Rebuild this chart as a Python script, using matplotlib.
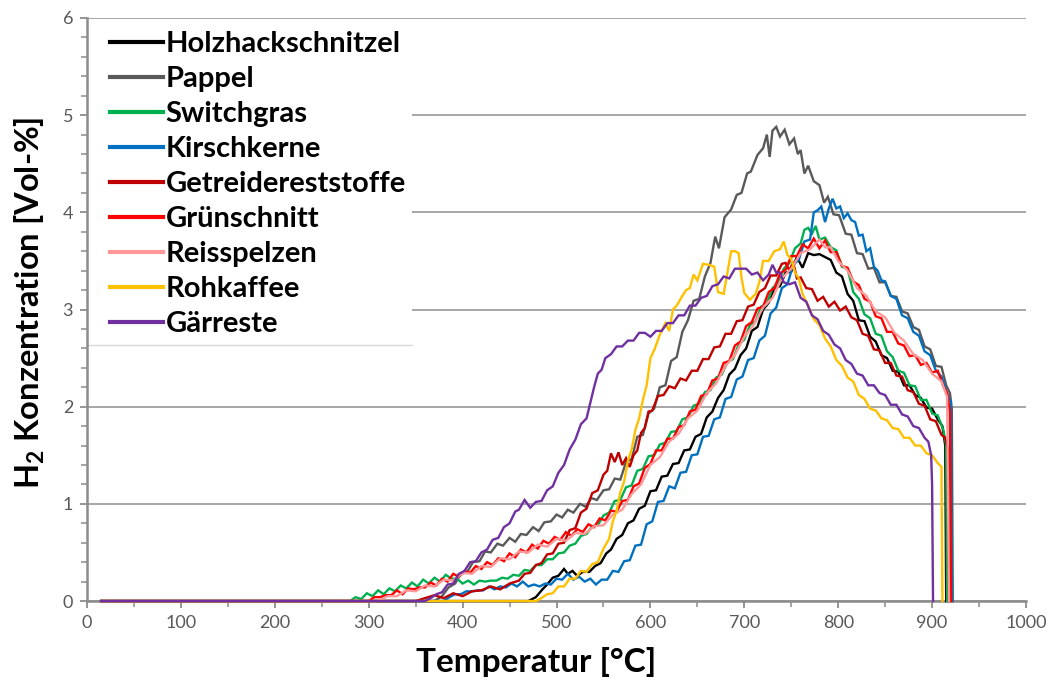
import numpy as np
import matplotlib
matplotlib.use("Agg")
import matplotlib.pyplot as plt
from matplotlib.patches import Rectangle
from matplotlib.ticker import MultipleLocator

plt.rcParams['font.family'] = ['Lato', 'DejaVu Sans']
plt.rcParams['mathtext.fontset'] = 'custom'
plt.rcParams['mathtext.rm'] = 'Lato:bold'
plt.rcParams['mathtext.bf'] = 'Lato:bold'

# H2 release over temperature, one curve per feedstock
holz_t = [15, 470, 478, 485, 490, 496, 502, 508, 512, 517, 522, 528, 535, 541, 547, 553, 558, 564, 570, 576,
          582, 588, 594, 600, 606, 612, 618, 624, 630, 636, 642, 648, 654, 660, 666, 672, 678, 684, 690, 696,
          702, 708, 714, 720, 726, 732, 738, 744, 750, 756, 762, 768, 774, 780, 786, 792, 798, 804, 810, 816,
          822, 828, 834, 840, 846, 852, 858, 864, 870, 876, 882, 888, 894, 900, 906, 911, 914, 915]
holz_h = [0, 0, 0.04, 0.12, 0.17, 0.24, 0.26, 0.33, 0.28, 0.31, 0.26, 0.30, 0.30, 0.36, 0.39, 0.49, 0.53, 0.64, 0.68, 0.80,
          0.83, 0.95, 0.98, 1.13, 1.14, 1.28, 1.29, 1.41, 1.42, 1.55, 1.56, 1.69, 1.72, 1.89, 1.95, 2.09, 2.17, 2.33, 2.39, 2.53,
          2.60, 2.78, 2.82, 3.00, 3.07, 3.22, 3.24, 3.38, 3.39, 3.54, 3.43, 3.58, 3.56, 3.57, 3.54, 3.51, 3.38, 3.34, 3.16, 3.09,
          2.89, 2.88, 2.72, 2.67, 2.53, 2.50, 2.37, 2.36, 2.22, 2.22, 2.12, 2.09, 1.99, 1.98, 1.87, 1.80, 1.60, 0]

pappel_t = [15, 370, 378, 385, 392, 398, 405, 411, 418, 424, 430, 437, 443, 450, 456, 462, 468, 475, 481, 487,
            494, 500, 506, 512, 518, 525, 531, 537, 543, 550, 556, 562, 568, 574, 580, 586, 592, 598, 604, 610,
            616, 622, 628, 634, 640, 646, 652, 658, 664, 669, 673, 679, 686, 692, 697, 703, 707, 714, 720, 724,
            727, 730, 734, 738, 743, 748, 753, 757, 760, 764, 768, 774, 780, 785, 789, 795, 801, 808, 814, 820,
            826, 832, 838, 844, 850, 856, 862, 868, 874, 880, 886, 892, 898, 904, 910, 915, 919, 921, 922]
pappel_h = [0, 0, 0.05, 0.14, 0.18, 0.28, 0.30, 0.40, 0.41, 0.51, 0.50, 0.59, 0.57, 0.65, 0.61, 0.69, 0.68, 0.76, 0.72, 0.81,
            0.82, 0.89, 0.86, 0.94, 0.91, 1.00, 0.97, 1.06, 1.04, 1.14, 1.15, 1.26, 1.25, 1.43, 1.46, 1.69, 1.71, 1.93, 1.98, 2.20,
            2.22, 2.47, 2.51, 2.77, 2.89, 3.09, 3.11, 3.34, 3.48, 3.75, 3.63, 3.95, 4.03, 4.18, 4.20, 4.40, 4.42, 4.59, 4.66, 4.80,
            4.57, 4.84, 4.88, 4.78, 4.85, 4.70, 4.76, 4.60, 4.64, 4.40, 4.48, 4.32, 4.28, 4.10, 4.16, 3.98, 3.97, 3.78, 3.77, 3.58,
            3.57, 3.42, 3.43, 3.28, 3.28, 3.14, 3.13, 2.98, 2.96, 2.82, 2.79, 2.62, 2.59, 2.42, 2.41, 2.22, 2.14, 1.98, 0]

switch_t = [15, 280, 286, 292, 298, 304, 310, 316, 322, 328, 334, 340, 346, 352, 358, 364, 370, 376, 382, 388,
            394, 400, 406, 412, 418, 424, 430, 436, 442, 448, 454, 460, 466, 472, 478, 484, 490, 496, 502, 508,
            514, 520, 526, 532, 538, 544, 550, 556, 562, 568, 574, 580, 586, 592, 598, 604, 610, 616, 622, 628,
            634, 640, 646, 652, 658, 664, 670, 676, 682, 688, 694, 700, 706, 712, 718, 724, 730, 736, 742, 748,
            754, 760, 764, 768, 772, 776, 780, 786, 792, 798, 804, 810, 816, 822, 828, 834, 840, 846, 852, 858,
            864, 870, 876, 882, 888, 894, 900, 906, 912, 915, 916]
switch_h = [0, 0, 0.04, 0.02, 0.08, 0.05, 0.11, 0.07, 0.13, 0.10, 0.16, 0.13, 0.19, 0.15, 0.22, 0.18, 0.24, 0.20, 0.27, 0.23,
            0.23, 0.18, 0.21, 0.17, 0.21, 0.20, 0.21, 0.21, 0.24, 0.23, 0.27, 0.26, 0.32, 0.31, 0.37, 0.37, 0.43, 0.43, 0.49, 0.50,
            0.57, 0.59, 0.67, 0.69, 0.77, 0.78, 0.88, 0.91, 1.03, 1.04, 1.17, 1.19, 1.34, 1.36, 1.49, 1.50, 1.61, 1.63, 1.74, 1.75,
            1.87, 1.89, 2.01, 2.03, 2.15, 2.17, 2.30, 2.33, 2.46, 2.49, 2.64, 2.69, 2.84, 2.88, 3.03, 3.06, 3.22, 3.27, 3.42, 3.48,
            3.63, 3.68, 3.82, 3.84, 3.78, 3.86, 3.72, 3.74, 3.64, 3.61, 3.44, 3.42, 3.18, 3.11, 2.95, 2.91, 2.75, 2.73, 2.57, 2.51,
            2.37, 2.35, 2.22, 2.21, 2.07, 2.07, 1.93, 1.91, 1.76, 1.60, 0]

kirsch_t = [15, 380, 386, 392, 398, 404, 410, 416, 422, 428, 434, 440, 446, 452, 458, 464, 470, 476, 482, 488,
            494, 500, 506, 512, 518, 524, 530, 536, 542, 548, 554, 560, 566, 572, 578, 584, 590, 596, 602, 608,
            614, 620, 626, 632, 638, 644, 650, 656, 662, 668, 674, 680, 686, 692, 698, 704, 710, 716, 722, 728,
            734, 740, 746, 752, 758, 764, 770, 774, 778, 782, 786, 790, 794, 798, 802, 806, 810, 814, 818, 822,
            826, 830, 834, 838, 842, 846, 850, 856, 862, 868, 874, 880, 886, 892, 898, 904, 910, 916, 920, 921]
kirsch_h = [0, 0, 0.04, 0.07, 0.07, 0.10, 0.10, 0.11, 0.11, 0.15, 0.12, 0.15, 0.14, 0.18, 0.15, 0.20, 0.15, 0.17, 0.15, 0.18,
            0.17, 0.23, 0.22, 0.28, 0.22, 0.25, 0.20, 0.23, 0.17, 0.22, 0.22, 0.31, 0.30, 0.41, 0.42, 0.57, 0.58, 0.79, 0.82, 1.02,
            1.03, 1.18, 1.16, 1.32, 1.33, 1.50, 1.51, 1.69, 1.70, 1.87, 1.89, 2.08, 2.10, 2.28, 2.31, 2.48, 2.50, 2.68, 2.73, 2.96,
            3.02, 3.22, 3.26, 3.46, 3.51, 3.70, 3.72, 4.00, 4.02, 4.06, 3.90, 4.04, 4.14, 4.04, 4.06, 3.94, 3.99, 3.92, 3.90, 3.76,
            3.77, 3.60, 3.63, 3.44, 3.40, 3.30, 3.29, 3.14, 3.11, 2.94, 2.91, 2.77, 2.73, 2.57, 2.53, 2.37, 2.31, 2.13, 2.05, 0]

getreide_t = [15, 350, 360, 370, 380, 390, 400, 410, 420, 430, 440, 450, 460, 466, 472, 478, 484, 490, 496, 502,
              508, 514, 520, 526, 532, 538, 544, 550, 554, 558, 562, 566, 570, 574, 578, 582, 586, 590, 594, 598,
              602, 608, 614, 620, 626, 632, 638, 644, 650, 656, 662, 668, 674, 680, 686, 692, 698, 704, 710, 716,
              722, 728, 734, 740, 744, 748, 752, 756, 760, 766, 772, 778, 784, 790, 796, 802, 808, 814, 820, 826,
              832, 838, 844, 850, 856, 862, 868, 874, 880, 886, 892, 898, 904, 910, 914, 917, 918]
getreide_h = [0, 0, 0.03, 0.06, 0.03, 0.08, 0.05, 0.10, 0.11, 0.15, 0.12, 0.18, 0.21, 0.28, 0.29, 0.37, 0.39, 0.48, 0.49, 0.59,
              0.60, 0.73, 0.75, 0.91, 0.95, 1.11, 1.14, 1.30, 1.34, 1.52, 1.43, 1.53, 1.40, 1.47, 1.38, 1.50, 1.55, 1.73, 1.78, 1.95,
              1.96, 2.11, 2.12, 2.21, 2.19, 2.29, 2.27, 2.37, 2.37, 2.49, 2.49, 2.61, 2.62, 2.75, 2.75, 2.88, 2.89, 3.03, 3.05, 3.18,
              3.22, 3.35, 3.35, 3.47, 3.48, 3.40, 3.49, 3.32, 3.33, 3.22, 3.21, 3.09, 3.13, 3.03, 3.08, 2.99, 3.03, 2.92, 2.89, 2.75,
              2.73, 2.59, 2.58, 2.45, 2.45, 2.32, 2.31, 2.17, 2.15, 2.03, 2.01, 1.87, 1.85, 1.71, 1.68, 1.55, 0]

gruen_t = [15, 300, 306, 312, 318, 324, 330, 336, 342, 348, 354, 360, 366, 372, 378, 384, 390, 396, 402, 408,
           414, 420, 426, 432, 438, 444, 450, 456, 462, 468, 474, 480, 486, 492, 498, 504, 510, 516, 522, 528,
           534, 540, 546, 552, 558, 564, 570, 576, 582, 588, 594, 600, 606, 612, 618, 624, 630, 636, 642, 648,
           654, 660, 666, 672, 678, 684, 690, 696, 702, 708, 714, 720, 726, 732, 738, 744, 750, 756, 762, 768,
           774, 780, 786, 792, 798, 804, 810, 816, 822, 828, 834, 840, 846, 852, 858, 864, 870, 876, 882, 888,
           894, 900, 906, 912, 916, 919, 920]
gruen_h = [0, 0, 0.04, 0.04, 0.06, 0.06, 0.11, 0.07, 0.13, 0.12, 0.14, 0.14, 0.19, 0.16, 0.23, 0.20, 0.28, 0.25, 0.31, 0.29,
           0.36, 0.33, 0.40, 0.37, 0.44, 0.41, 0.49, 0.45, 0.53, 0.50, 0.58, 0.54, 0.62, 0.59, 0.66, 0.63, 0.71, 0.67, 0.74, 0.71,
           0.79, 0.76, 0.85, 0.83, 0.93, 0.92, 1.03, 1.04, 1.18, 1.21, 1.37, 1.41, 1.55, 1.55, 1.67, 1.67, 1.79, 1.81, 1.95, 1.97,
           2.11, 2.13, 2.27, 2.29, 2.45, 2.47, 2.63, 2.67, 2.83, 2.87, 3.01, 3.03, 3.18, 3.22, 3.37, 3.41, 3.55, 3.55, 3.67, 3.63,
           3.73, 3.63, 3.71, 3.59, 3.59, 3.45, 3.43, 3.29, 3.25, 3.11, 3.08, 2.93, 2.91, 2.77, 2.77, 2.65, 2.63, 2.52, 2.53, 2.43,
           2.45, 2.35, 2.37, 2.21, 2.14, 1.95, 0]

reis_t = [15, 310, 320, 330, 340, 350, 360, 370, 380, 390, 400, 410, 420, 430, 440, 450, 460, 470, 480, 490,
          500, 510, 520, 530, 540, 550, 560, 570, 580, 590, 600, 610, 620, 630, 640, 650, 660, 670, 680, 690,
          700, 710, 720, 730, 740, 750, 760, 770, 780, 786, 792, 800, 810, 820, 830, 840, 850, 860, 870, 880,
          890, 900, 910, 916, 918]
reis_h = [0, 0, 0.05, 0.05, 0.11, 0.10, 0.16, 0.15, 0.22, 0.21, 0.29, 0.28, 0.36, 0.35, 0.44, 0.43, 0.51, 0.50, 0.58, 0.56,
          0.64, 0.62, 0.70, 0.69, 0.77, 0.78, 0.89, 0.94, 1.10, 1.20, 1.40, 1.48, 1.64, 1.72, 1.88, 1.96, 2.14, 2.24, 2.42, 2.53,
          2.72, 2.84, 3.02, 3.12, 3.32, 3.42, 3.58, 3.62, 3.72, 3.64, 3.64, 3.50, 3.40, 3.22, 3.14, 2.98, 2.92, 2.76, 2.68, 2.54,
          2.48, 2.34, 2.26, 2.10, 0]

kaffee_t = [15, 478, 484, 490, 496, 502, 508, 514, 520, 526, 532, 538, 544, 550, 556, 560, 564, 568, 572, 576,
            580, 584, 588, 592, 596, 600, 604, 610, 616, 620, 624, 628, 634, 638, 642, 646, 650, 656, 662, 668,
            672, 678, 682, 686, 690, 694, 697, 700, 706, 712, 716, 720, 726, 732, 738, 742, 746, 750, 754, 758,
            762, 768, 774, 780, 786, 792, 798, 804, 810, 816, 822, 828, 834, 840, 846, 852, 858, 864, 870, 876,
            882, 888, 894, 900, 906, 910, 911]
kaffee_h = [0, 0, 0.03, 0.07, 0.08, 0.15, 0.15, 0.23, 0.23, 0.31, 0.30, 0.38, 0.40, 0.54, 0.64, 0.82, 0.93, 1.12, 1.23, 1.44,
            1.56, 1.76, 1.88, 2.07, 2.22, 2.50, 2.58, 2.74, 2.86, 2.78, 3.00, 3.04, 3.14, 3.20, 3.22, 3.36, 3.30, 3.47, 3.46, 3.44,
            3.18, 3.16, 3.38, 3.60, 3.60, 3.58, 3.33, 3.17, 3.10, 3.16, 3.28, 3.50, 3.50, 3.60, 3.62, 3.70, 3.56, 3.52, 3.38, 3.32,
            3.16, 3.04, 2.90, 2.84, 2.70, 2.62, 2.48, 2.42, 2.30, 2.26, 2.12, 2.08, 1.98, 1.96, 1.88, 1.86, 1.78, 1.77, 1.68, 1.68,
            1.60, 1.60, 1.52, 1.50, 1.42, 1.38, 0]

gaer_t = [15, 360, 366, 372, 378, 384, 390, 396, 402, 408, 414, 420, 426, 432, 438, 444, 450, 456, 460, 466,
          472, 478, 484, 490, 496, 502, 508, 514, 520, 526, 532, 536, 540, 544, 548, 552, 558, 564, 570, 576,
          582, 588, 594, 600, 606, 612, 618, 624, 630, 636, 642, 648, 654, 660, 666, 672, 678, 684, 690, 696,
          702, 708, 714, 720, 726, 730, 734, 738, 742, 748, 754, 760, 766, 772, 778, 784, 790, 796, 802, 808,
          814, 820, 826, 832, 838, 844, 850, 856, 862, 868, 874, 880, 886, 892, 896, 899, 900, 901]
gaer_h = [0, 0, 0.03, 0.07, 0.09, 0.17, 0.18, 0.28, 0.31, 0.40, 0.41, 0.50, 0.53, 0.63, 0.65, 0.76, 0.80, 0.92, 0.94, 1.04,
          0.96, 1.02, 1.03, 1.14, 1.18, 1.32, 1.40, 1.56, 1.66, 1.82, 1.88, 2.04, 2.20, 2.34, 2.38, 2.50, 2.54, 2.62, 2.62, 2.68,
          2.68, 2.76, 2.76, 2.72, 2.78, 2.78, 2.86, 2.86, 2.94, 2.94, 3.04, 3.04, 3.12, 3.14, 3.24, 3.26, 3.34, 3.32, 3.42, 3.42,
          3.42, 3.36, 3.38, 3.30, 3.36, 3.46, 3.38, 3.38, 3.28, 3.26, 3.28, 3.12, 3.08, 2.94, 2.90, 2.78, 2.74, 2.64, 2.60, 2.48,
          2.44, 2.34, 2.32, 2.22, 2.22, 2.14, 2.12, 2.02, 2.02, 1.92, 1.90, 1.80, 1.78, 1.68, 1.64, 1.50, 1.20, 0]

series = [
    ("Holzhackschnitzel", holz_t, holz_h, "#000000"),
    ("Pappel", pappel_t, pappel_h, "#595959"),
    ("Switchgras", switch_t, switch_h, "#00b050"),
    ("Kirschkerne", kirsch_t, kirsch_h, "#0070c0"),
    ("Getreidereststoffe", getreide_t, getreide_h, "#c00000"),
    ("Grünschnitt", gruen_t, gruen_h, "#ff0000"),
    ("Reisspelzen", reis_t, reis_h, "#ff9999"),
    ("Rohkaffee", kaffee_t, kaffee_h, "#ffc000"),
    ("Gärreste", gaer_t, gaer_h, "#7030a0"),
]

fig = plt.figure(figsize=(10.55, 6.84), dpi=100)
ax = fig.add_axes([0.0825, 0.1213, 0.8900, 0.8524])

for name, t, h, color in series:
    ax.plot(t, h, color=color, lw=1.7, label=name, solid_joinstyle='miter', clip_on=False, zorder=3)

ax.set_xlim(0, 1000)
ax.set_ylim(0, 6)
ax.xaxis.set_major_locator(MultipleLocator(100))
ax.xaxis.set_minor_locator(MultipleLocator(50))
ax.yaxis.set_major_locator(MultipleLocator(1))
ax.yaxis.set_minor_locator(MultipleLocator(0.2))

ax.yaxis.grid(True, which='major', color='#a6a6a6', lw=1.4)
ax.set_axisbelow(True)
for side in ('top', 'right'):
    ax.spines[side].set_visible(False)
for side in ('left', 'bottom'):
    ax.spines[side].set_color('#8c8c8c')
    ax.spines[side].set_linewidth(1.8)

ax.tick_params(axis='both', which='both', direction='out', color='#8c8c8c', labelcolor='#595959')
ax.tick_params(axis='both', which='major', length=5, width=1.3, labelsize=13, pad=5)
ax.tick_params(axis='both', which='minor', length=4, width=1.1)

ax.set_xlabel("Temperatur [°C]", fontsize=24, fontweight='bold')
ax.xaxis.set_label_coords(0.478, -0.078)
ax.set_ylabel(r"H$_2$ Konzentration [Vol-%]", fontsize=23.5, fontweight='bold')
ax.yaxis.set_label_coords(-0.043, 0.512)

# white block behind the legend hides the grid on the upper left
ax.add_patch(Rectangle((0, 2.63), 346, 3.35, facecolor='white', edgecolor='none', zorder=1))
ax.plot([0, 346], [2.63, 2.63], color='#d9d9d9', lw=1.0, zorder=1.5)

leg = ax.legend(loc='upper left', bbox_to_anchor=(0.0245, 0.978), frameon=False,
                prop={'weight': 'bold', 'size': 21}, handlelength=1.8, handletextpad=0.1,
                labelspacing=0.31, borderaxespad=0.0, borderpad=0.0)
for line in leg.get_lines():
    line.set_linewidth(3.0)

fig.savefig("out.png", dpi=100, facecolor='white')
